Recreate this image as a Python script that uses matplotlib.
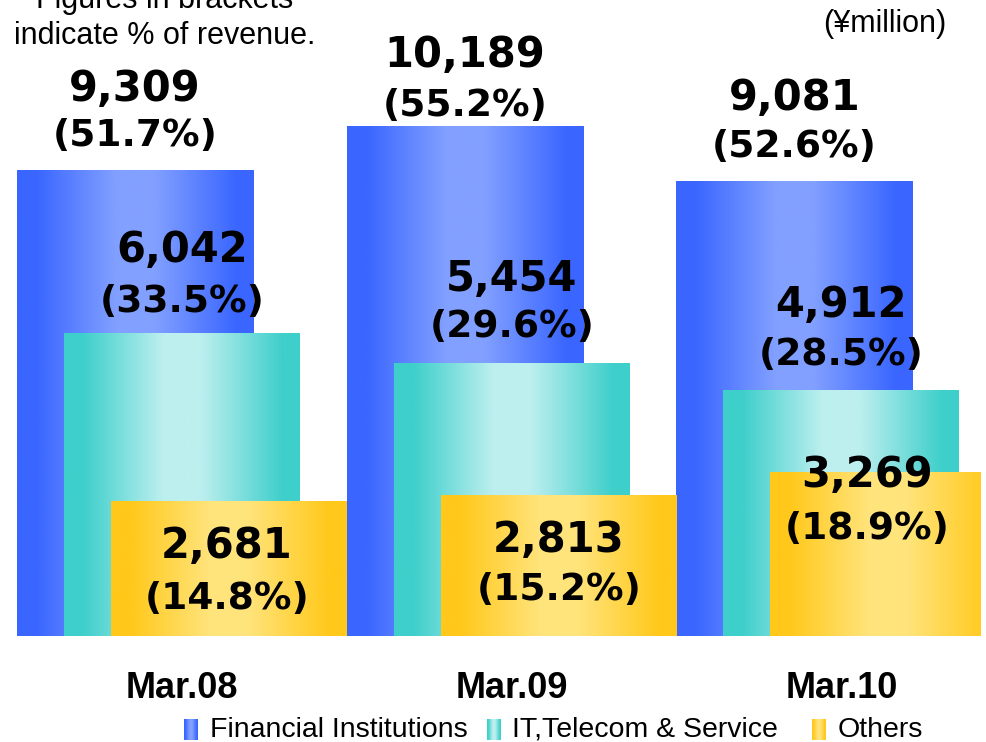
import numpy as np
import matplotlib
matplotlib.use('Agg')
from matplotlib import pyplot as plt
from matplotlib.colors import LinearSegmentedColormap

# data
periods = ['Mar.08', 'Mar.09', 'Mar.10']
series = ['Financial Institutions', 'IT,Telecom & Service', 'Others']
financial = [9309, 10189, 9081]
it_telecom = [6042, 5454, 4912]
others = [2681, 2813, 3269]
financial_pct = [51.7, 55.2, 52.6]
it_telecom_pct = [33.5, 29.6, 28.5]
others_pct = [14.8, 15.2, 18.9]

# gradient colours (edge, light middle)
grad_cols = [('#3a66ff', '#82a0ff'), ('#3ecfcb', '#bdefef'), ('#ffc81a', '#ffe47c')]

def make_cmap(edge, light):
    return LinearSegmentedColormap.from_list(
        'g', [(0, edge), (0.08, edge), (0.42, light), (0.58, light), (0.93, edge), (1, edge)])

# label offsets (pixels from bar top) for value line and pct line
lab_off = [
    [(0, 82, 35), (0, 72, 21), (0, 84, 35)],
    [(0, 84, 32), (0, 84, 36), (0, 85, 35)],
    [(-2, -44, -97), (0, -45, -95), (-21, -2, -56)],
]

W, H = 987, 742
fig = plt.figure(figsize=(W / 100, H / 100), dpi=100)
px = 329.7           # pixels per category
ppu = 0.05           # pixels per yen million
ax = fig.add_axes([0, 106 / H, 981 / W, 636 / H])

width = 236 / px
off = 47 / px
x = np.arange(len(periods))
vals = [financial, it_telecom, others]
pcts = [financial_pct, it_telecom_pct, others_pct]
grad = np.linspace(0, 1, 256)[np.newaxis, :]

for k in range(3):
    cmap = make_cmap(*grad_cols[k])
    bars = ax.bar(x + (k - 1) * off, vals[k], width, color='none', zorder=2 + k)
    for i, b in enumerate(bars):
        x0 = b.get_x()
        ax.imshow(grad, cmap=cmap, aspect='auto', zorder=2 + k,
                  extent=[x0, x0 + b.get_width(), 0, b.get_height()])
        dx, dv, dp = lab_off[k][i]
        xc = x0 + b.get_width() / 2
        ax.annotate('{:,}'.format(vals[k][i]), xy=(xc, b.get_height()),
                    xytext=(dx, dv), textcoords='offset pixels', ha='center', va='center',
                    fontsize=30, fontweight='bold', family='DejaVu Sans', zorder=10)
        ax.annotate('({:.1f}%)'.format(pcts[k][i]), xy=(xc, b.get_height()),
                    xytext=(dx, dp), textcoords='offset pixels', ha='center', va='center',
                    fontsize=27, fontweight='bold', family='DejaVu Sans', zorder=10)

ax.set_xlim(-182 / px, (981 - 182) / px)
ax.set_ylim(0, 636 / ppu)
ax.set_xticks(x)
ax.set_xticklabels(periods, fontsize=26, fontweight='bold', family='Liberation Sans')
ax.tick_params(axis='x', length=0, pad=25)
ax.set_yticks([])
for s in ax.spines.values():
    s.set_visible(False)
ax.patch.set_alpha(0)

# legend
leg_sw = [184, 487, 812]
leg_tx = [210, 512, 838]
for k in range(3):
    sw = fig.add_axes([leg_sw[k] / W, 2 / H, 14 / W, 21 / H])
    sw.imshow(grad, cmap=make_cmap(*grad_cols[k]), aspect='auto')
    sw.axis('off')
    fig.text(leg_tx[k] / W, 1 - 730 / H, series[k], fontsize=20.5,
             family='Liberation Sans', va='center', ha='left')

fig.text(165 / W, 1 - 8 / H, 'Figures in brackets', fontsize=22,
         family='Liberation Sans', ha='center', va='baseline')
fig.text(165 / W, 1 - 44 / H, 'indicate % of revenue.', fontsize=22,
         family='Liberation Sans', ha='center', va='baseline')
fig.text(885 / W, 1 - 24 / H, '(¥million)', fontsize=22,
         family='Liberation Sans', ha='center', va='center')

fig.savefig('out.png', dpi=100)
